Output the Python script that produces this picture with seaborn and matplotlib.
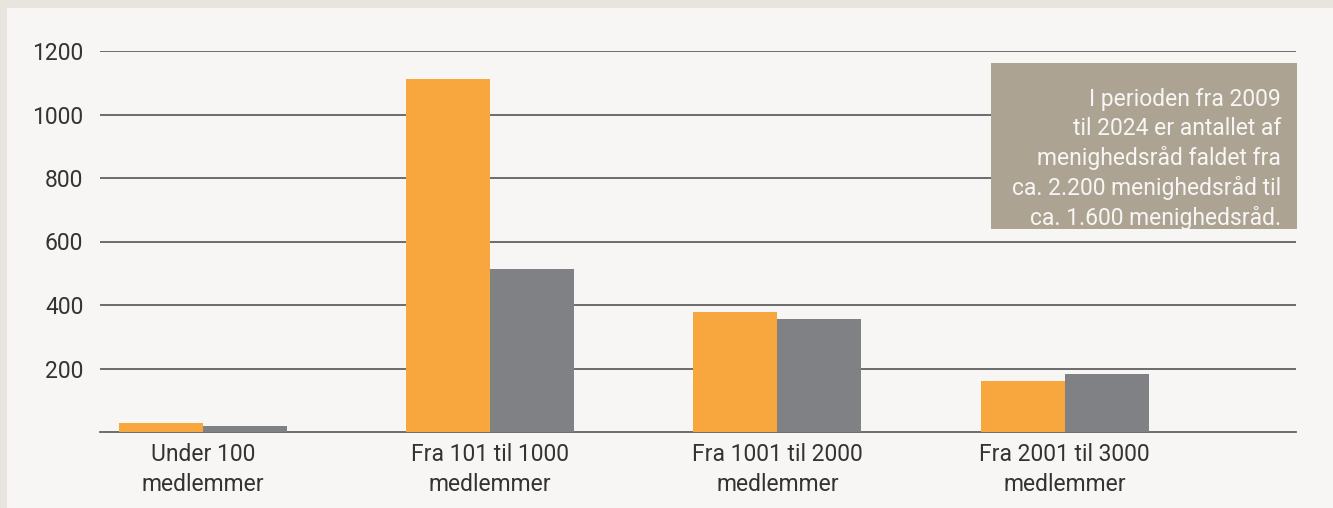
import matplotlib
matplotlib.use("Agg")
import matplotlib.pyplot as plt
import seaborn as sns
import pandas as pd
from matplotlib.patches import Rectangle

categories = ["Under 100\nmedlemmer", "Fra 101 til 1000\nmedlemmer",
              "Fra 1001 til 2000\nmedlemmer", "Fra 2001 til 3000\nmedlemmer"]
series_names = ["2009", "2024"]
values_2009 = [28, 1112, 378, 161]
values_2024 = [20, 513, 356, 183]
yticks = [200, 400, 600, 800, 1000, 1200]
note = ("I perioden fra 2009\ntil 2024 er antallet af\nmenighedsråd faldet fra\n"
        "ca. 2.200 menighedsråd til\nca. 1.600 menighedsråd.")

colors = ["#F8A73E", "#808185"]
bg = "#F7F6F4"
frame = "#E8E5DF"
txt = "#333333"

df = pd.DataFrame({
    "kategori": categories * 2,
    "serie": [series_names[0]] * 4 + [series_names[1]] * 4,
    "antal": values_2009 + values_2024,
})

sns.set_theme(style="white")
plt.rcParams["font.family"] = ["Roboto", "DejaVu Sans"]

fig = plt.figure(figsize=(13.33, 5.08), dpi=100)
fig.patch.set_facecolor(frame)
fig.patches.append(Rectangle((7 / 1333, 0), 1, 1 - 8 / 508, transform=fig.transFigure,
                             facecolor=bg, edgecolor="none", zorder=-2))

ax = fig.add_axes([100 / 1333, 1 - 432 / 508, 1196 / 1333, 381 / 508])
ax.set_facecolor("none")

sns.barplot(data=df, x="kategori", y="antal", hue="serie", order=categories,
            hue_order=series_names, palette=colors, width=0.585, saturation=1,
            legend=False, ax=ax, zorder=3, linewidth=0, edgecolor="none")

ax.set_xlim(-0.358, 3.805)
ax.set_ylim(0, 1200)
ax.set_yticks(yticks)
ax.set_yticklabels([str(v) for v in yticks])
ax.yaxis.grid(True, color="#555555", linewidth=1.2)
ax.set_axisbelow(True)
for s in ["top", "right", "left"]:
    ax.spines[s].set_visible(False)
ax.spines["bottom"].set_color("#555555")
ax.spines["bottom"].set_linewidth(1.2)
ax.tick_params(axis="both", length=0, labelsize=16.5, labelcolor=txt)
ax.tick_params(axis="y", pad=12)
ax.tick_params(axis="x", pad=8)
ax.set_xlabel("")
ax.set_ylabel("")
for lab in ax.get_xticklabels():
    lab.set_linespacing(1.4)

# annotation box
fig.patches.append(Rectangle((991 / 1333, 1 - 229 / 508), 306 / 1333, 166 / 508,
                             transform=fig.transFigure, facecolor="#ADA392",
                             edgecolor="none", zorder=5))
fig.text(1281 / 1333, 1 - 159 / 508, note, ha="right", va="center", color="#F7F6F4",
         fontsize=16.5, linespacing=1.33, zorder=6)

fig.savefig("out.png", dpi=100, facecolor=fig.get_facecolor())
